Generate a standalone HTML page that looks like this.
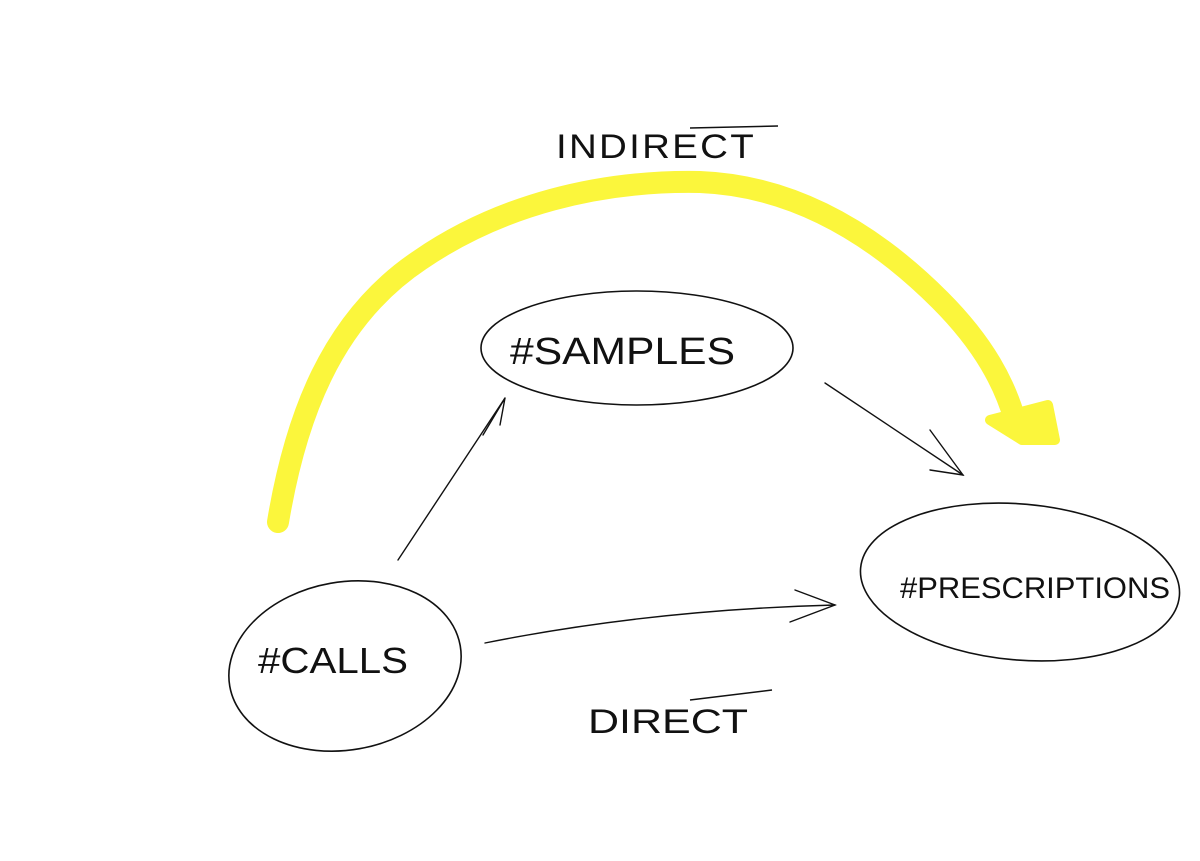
<!DOCTYPE html>
<html><head><meta charset="utf-8"><style>
html,body{margin:0;padding:0;background:#fff;width:1200px;height:861px;overflow:hidden}
svg{display:block}
text{font-family:"Liberation Sans",sans-serif;fill:#111;font-weight:normal}
</style></head><body>
<svg width="1200" height="861" viewBox="0 0 1200 861" xmlns="http://www.w3.org/2000/svg">
<rect width="1200" height="861" fill="#fff"/>
<!-- yellow arc -->
<path d="M278,522 C295,420 330,320 420,260 C500,205 600,180 700,182 C800,186 880,240 940,300 C985,345 1005,385 1015,420" fill="none" stroke="#fbf63c" stroke-width="22" stroke-linecap="round"/>
<path d="M990,420 L1022,440 L1055,440 L1048,405 Z" fill="#fbf63c" stroke="#fbf63c" stroke-width="10" stroke-linejoin="round"/>
<!-- INDIRECT -->
<text x="556" y="158" font-size="34" textLength="200" lengthAdjust="spacingAndGlyphs" style="letter-spacing:2px">INDIRECT</text>
<line x1="690" y1="128" x2="778" y2="126" stroke="#111" stroke-width="1.5"/>
<!-- samples ellipse -->
<ellipse cx="637" cy="348" rx="156" ry="57" fill="none" stroke="#111" stroke-width="1.6"/>
<text x="510" y="364" font-size="38" textLength="225" lengthAdjust="spacingAndGlyphs">#SAMPLES</text>
<!-- prescriptions ellipse -->
<ellipse cx="1020" cy="582" rx="160" ry="78" transform="rotate(5 1020 582)" fill="none" stroke="#111" stroke-width="1.6"/>
<text x="900" y="598" font-size="30" textLength="270" lengthAdjust="spacingAndGlyphs">#PRESCRIPTIONS</text>
<!-- calls ellipse -->
<ellipse cx="345" cy="666" rx="117" ry="84" transform="rotate(-10 345 666)" fill="none" stroke="#111" stroke-width="1.6"/>
<text x="258" y="673" font-size="36" textLength="150" lengthAdjust="spacingAndGlyphs">#CALLS</text>
<!-- arrows -->
<g fill="none" stroke="#111" stroke-width="1.4" stroke-linecap="round">
<path d="M398,560 L505,398"/><path d="M483,435 L505,398 L500,425"/>
<path d="M825,383 L963,475"/><path d="M930,430 L963,475 L930,470"/>
<path d="M485,643 C600,620 720,608 835,605"/><path d="M795,590 L835,605 L790,622"/>
</g>
<!-- DIRECT -->
<text x="588" y="733" font-size="34" textLength="160" lengthAdjust="spacingAndGlyphs">DIRECT</text>
<line x1="690" y1="700" x2="772" y2="690" stroke="#111" stroke-width="1.5"/>
</svg>
</body></html>
